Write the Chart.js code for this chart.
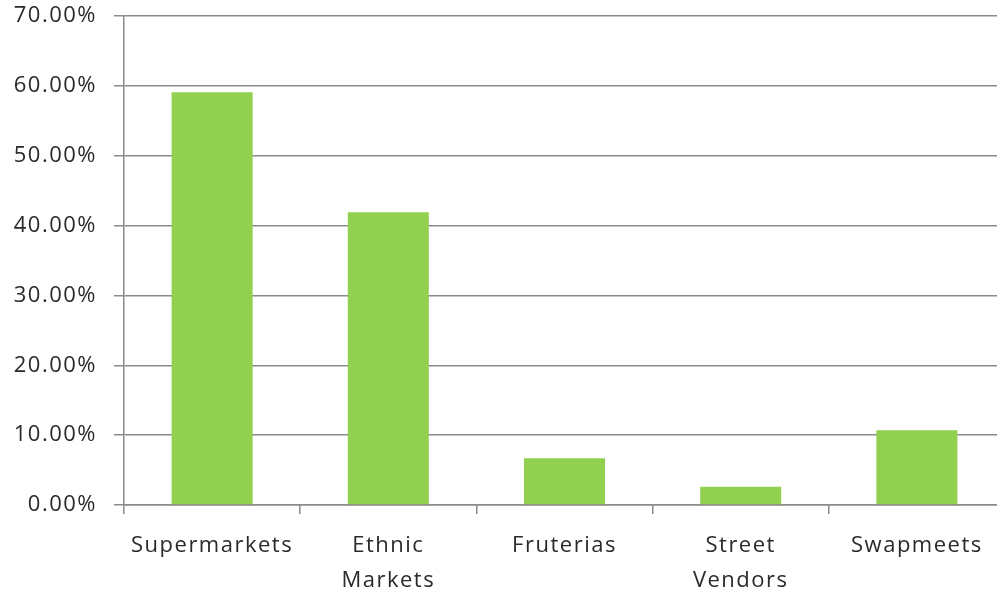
<!DOCTYPE html>
<html>
<head>
<meta charset="utf-8">
<script src="https://cdn.jsdelivr.net/npm/chart.js@4/dist/chart.umd.min.js"></script>
<style>
  html, body { margin: 0; padding: 0; background: #fff; overflow: hidden; }
  #wrap { width: 1005px; height: 592px; }
</style>
</head>
<body>
<div id="wrap"><canvas id="myChart" width="1005" height="592"></canvas></div>
<script>
const categories = [['Supermarkets'], ['Ethnic', 'Markets'], ['Fruterias'], ['Street', 'Vendors'], ['Swapmeets']];
const shares = [59.1, 41.9, 6.7, 2.6, 10.7];
const yTicks = [0, 10, 20, 30, 40, 50, 60, 70];

const gridColor = '#8a8a8a';
const textColor = '#2a2a2a';
const font = { family: '"Open Sans", "Noto Sans", sans-serif', size: 22 };

// spread the letters a bit, like the original rendering
const spacing = {
  id: 'spacing',
  beforeInit(chart) { chart.ctx.letterSpacing = '1.5px'; },
  beforeDraw(chart) { chart.ctx.letterSpacing = '1.5px'; }
};

const ctx = document.getElementById('myChart');
new Chart(ctx, {
  type: 'bar',
  data: {
    labels: categories,
    datasets: [{
      data: shares,
      backgroundColor: '#92D050',
      borderWidth: 0,
      categoryPercentage: 1,
      barPercentage: 0.46
    }]
  },
  options: {
    responsive: false,
    animation: false,
    devicePixelRatio: 1,
    layout: { padding: { top: 16, left: 0, right: 0, bottom: 0 } },
    plugins: { legend: { display: false }, tooltip: { enabled: false } },
    scales: {
      x: {
        offset: true,
        grid: { offset: true, drawOnChartArea: false, drawTicks: true, tickLength: 9, color: gridColor, lineWidth: 1.5 },
        border: { display: true, color: gridColor, width: 1.5 },
        ticks: { color: textColor, font: { ...font, lineHeight: 1.6 }, padding: 14, maxRotation: 0, autoSkip: false },
        afterFit(scale) { scale.height = 87; scale.paddingLeft = 0; scale.paddingRight = 0; }
      },
      y: {
        min: 0,
        max: 70,
        afterBuildTicks(scale) { scale.ticks = yTicks.map(v => ({ value: v })); },
        grid: { drawTicks: true, tickLength: 10, color: gridColor, lineWidth: 1.5 },
        border: { display: true, color: gridColor, width: 1.5 },
        ticks: {
          color: textColor,
          font: font,
          padding: 17,
          callback: v => v.toFixed(2) + '%'
        },
        afterFit(scale) { scale.width = 124; scale.paddingTop = 0; scale.paddingBottom = 0; }
      }
    }
  },
  plugins: [spacing]
});
</script>
</body>
</html>
